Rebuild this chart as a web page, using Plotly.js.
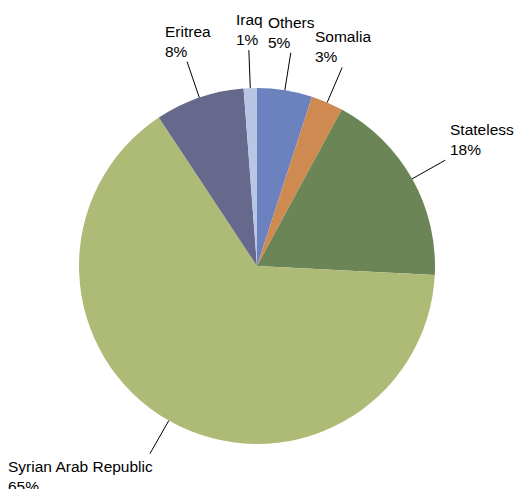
<!DOCTYPE html>
<html><head><meta charset="utf-8">
<script src="https://cdn.plot.ly/plotly-3.0.1.min.js"></script>
<style>html,body{margin:0;padding:0;background:#fff}#chart{width:514px;height:489px}</style>
</head><body><div id="chart"></div>
<script>
const labels = ['Others', 'Somalia', 'Stateless', 'Syrian Arab Republic', 'Eritrea', 'Iraq'];
const values = [5.0, 2.9, 17.9, 64.9, 8.1, 1.2];
const colors = ['#6b82bf', '#cf8a52', '#6b8556', '#aebb76', '#66698c', '#b8c6e6'];

const W = 514, H = 489, cx = 257, cy = 266, R = 178, R2 = 216;
const total = values.reduce((a, b) => a + b, 0);
let cum = 0;
const shapes = [], annotations = [];
values.forEach((v, i) => {
  const mid = (cum + v / 2) / total * 2 * Math.PI; cum += v;
  const s = Math.sin(mid), c = Math.cos(mid);
  const x1 = cx + R * s, y1 = cy - R * c, x2 = cx + R2 * s, y2 = cy - R2 * c;
  shapes.push({type: 'line', xref: 'paper', yref: 'paper', x0: x1 / W, y0: 1 - y1 / H, x1: x2 / W, y1: 1 - y2 / H,
    line: {color: '#000', width: 1}});
  const pct = Math.round(v / total * 100) + '%';
  const xa = s > 0.45 ? 'left' : (s < -0.45 ? 'right' : 'center');
  const ya = c > 0 ? 'bottom' : 'top';
  annotations.push({xref: 'paper', yref: 'paper', x: x2 / W, y: 1 - y2 / H, text: labels[i] + '<br>' + pct,
    showarrow: false, align: 'left', xanchor: xa, yanchor: ya,
    xshift: xa === 'left' ? 3 : (xa === 'center' ? 1 : 5), yshift: ya === 'bottom' ? 0 : -2,
    font: {family: 'Liberation Sans, Arial, sans-serif', size: 15.5, color: '#000'}});
});

const data = [{
  type: 'pie', labels: labels, values: values, sort: false, direction: 'clockwise', rotation: 0,
  marker: {colors: colors, line: {width: 0}}, textinfo: 'none', hoverinfo: 'none', showlegend: false,
  domain: {x: [(cx - R) / W, (cx + R) / W], y: [1 - (cy + R) / H, 1 - (cy - R) / H]}
}];
const layout = {width: W, height: H, margin: {l: 0, r: 0, t: 0, b: 0}, paper_bgcolor: '#fff',
  shapes: shapes, annotations: annotations, showlegend: false};
Plotly.newPlot('chart', data, layout, {displayModeBar: false, staticPlot: true});
</script></body></html>
